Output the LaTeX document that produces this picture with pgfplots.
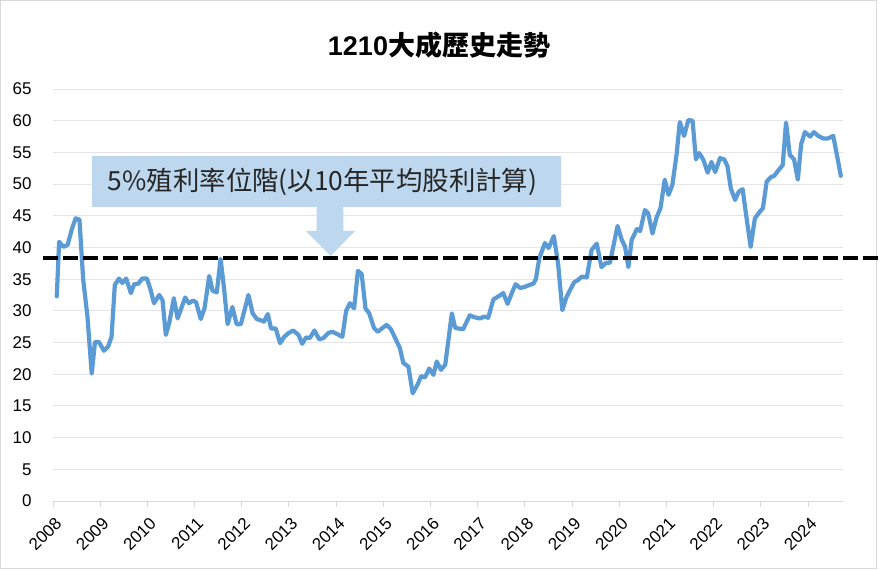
\documentclass[border=0pt]{standalone}
\usepackage{pgfplots}
\pgfplotsset{compat=1.18}
\usepackage{pgfplotstable}
\usepackage{fontspec}
\setmainfont{Liberation Sans}
\newfontfamily\cjk{Noto Sans CJK TC}
\definecolor{lineblue}{RGB}{91,155,213}
\definecolor{annblue}{RGB}{189,215,238}
\definecolor{gridgray}{RGB}{228,228,234}
\definecolor{bordergray}{RGB}{217,217,217}
\pgfplotstableread{
x y
2008.08 32.3
2008.13 40.9
2008.22 40.1
2008.31 40.4
2008.40 42.9
2008.48 44.6
2008.56 44.4
2008.64 34.9
2008.73 29.1
2008.82 20.1
2008.89 25.1
2008.97 25.1
2009.08 23.7
2009.17 24.4
2009.24 25.9
2009.31 34.1
2009.40 35.1
2009.47 34.4
2009.55 35.1
2009.65 32.8
2009.72 34.2
2009.81 34.3
2009.89 35.1
2009.99 35.1
2010.06 33.5
2010.14 31.2
2010.25 32.5
2010.32 31.7
2010.39 26.2
2010.46 28.0
2010.56 32.0
2010.64 28.8
2010.80 32.1
2010.88 31.2
2010.96 31.6
2011.03 31.4
2011.13 28.7
2011.21 30.4
2011.31 35.5
2011.38 33.2
2011.47 32.9
2011.55 38.2
2011.62 33.8
2011.70 27.9
2011.80 30.6
2011.89 27.9
2011.98 27.9
2012.05 29.9
2012.14 32.5
2012.23 29.6
2012.32 28.7
2012.41 28.5
2012.47 28.3
2012.55 29.5
2012.62 27.2
2012.72 27.2
2012.81 24.9
2012.90 25.9
2012.99 26.5
2013.09 26.9
2013.20 26.2
2013.28 24.8
2013.36 25.8
2013.44 25.7
2013.54 26.9
2013.64 25.5
2013.73 25.7
2013.83 26.5
2013.92 26.7
2014.03 26.3
2014.13 25.9
2014.21 30.0
2014.29 31.2
2014.38 30.4
2014.46 36.3
2014.54 35.8
2014.62 30.4
2014.70 29.6
2014.80 27.3
2014.88 26.7
2014.98 27.3
2015.07 27.8
2015.16 27.1
2015.25 25.7
2015.35 24.1
2015.42 21.8
2015.53 21.2
2015.62 17.0
2015.72 18.3
2015.80 19.7
2015.88 19.5
2015.97 20.9
2016.06 19.9
2016.13 22.0
2016.22 20.7
2016.31 21.5
2016.45 29.6
2016.52 27.3
2016.69 27.1
2016.83 29.3
2016.92 29.0
2017.05 28.8
2017.14 29.1
2017.22 28.9
2017.33 31.8
2017.46 32.4
2017.54 32.8
2017.63 31.1
2017.72 32.8
2017.80 34.2
2017.90 33.6
2018.00 33.8
2018.10 34.1
2018.18 34.3
2018.23 35.0
2018.30 38.2
2018.42 40.7
2018.50 39.9
2018.61 41.8
2018.70 37.5
2018.79 30.1
2018.88 32.2
2018.97 33.5
2019.04 34.5
2019.13 34.9
2019.20 35.4
2019.31 35.3
2019.41 39.6
2019.52 40.6
2019.62 36.9
2019.72 37.6
2019.80 37.6
2019.96 43.4
2020.05 41.2
2020.12 40.1
2020.19 36.9
2020.26 41.2
2020.37 42.9
2020.44 42.6
2020.54 45.9
2020.61 45.4
2020.70 42.2
2020.79 44.8
2020.87 46.2
2020.96 50.7
2021.04 48.3
2021.12 49.8
2021.21 54.6
2021.28 59.8
2021.37 57.6
2021.46 60.1
2021.55 60.0
2021.62 53.9
2021.69 54.9
2021.78 53.8
2021.87 51.8
2021.95 53.5
2022.03 51.9
2022.13 54.1
2022.22 53.9
2022.29 52.8
2022.36 49.3
2022.45 47.5
2022.53 48.8
2022.61 49.2
2022.70 44.3
2022.78 40.1
2022.87 44.6
2022.96 45.5
2023.04 46.2
2023.12 50.4
2023.21 51.1
2023.28 51.3
2023.37 52.2
2023.46 53.0
2023.53 59.7
2023.61 54.6
2023.70 53.9
2023.78 50.7
2023.85 56.3
2023.93 58.2
2024.04 57.5
2024.12 58.2
2024.21 57.6
2024.32 57.2
2024.42 57.2
2024.53 57.6
2024.62 54.1
2024.69 51.3
}\pricedata
\pgfplotstableread{
x y
2007.79 38.3
2025.48 38.3
}\yieldline
\begin{document}
\begin{tikzpicture}[x=1pt,y=1pt]
\path[use as bounding box] (0,0) rectangle (882,570);
\fill[white] (0,0) rectangle (882,570);
\draw[bordergray, line width=1pt] (0.5,2) rectangle (876.5,569.5);
\begin{axis}[
  at={(53pt,69pt)}, anchor=south west,
  scale only axis, width=790pt, height=412pt,
  xmin=2008, xmax=2024.737, ymin=0, ymax=65,
  clip=false,
  axis lines*=left,
  y axis line style={draw=none},
  x axis line style={draw=bordergray, line width=1pt},
  ytick={0,5,...,65},
  xtick={2008,2009,...,2024},
  ytick style={draw=none},
  xtick style={draw=bordergray, line width=1pt},
  tick align=outside,
  major tick length=6pt,
  ymajorgrids,
  grid style={gridgray, line width=1pt},
  /pgf/number format/assume math mode=true,
  /pgf/number format/1000 sep={},
  x tick label style={/pgf/number format/1000 sep={}},
  tick label style={font=\fontsize{17}{19}\selectfont, text=black},
  yticklabel style={anchor=east, xshift=-12pt},
  xticklabel style={xshift=8pt, yshift=-11pt, rotate=45, anchor=east},
]
\addplot[lineblue, line width=4.2pt, line join=round, line cap=round] table[x=x,y=y] {\pricedata};
\addplot[black, line width=4pt, dash pattern=on 15pt off 5pt] table[x=x,y=y] {\yieldline};
\end{axis}
\fill[annblue] (92,363) rectangle (561,414);
\fill[annblue] (316.7,363.5) -- (316.7,339) -- (306,339) -- (330.7,314) -- (355,339) -- (343.3,339) -- (343.3,363.5) -- cycle;
\node[text=black!85, font=\cjk\fontsize{26.4}{29}\selectfont] at (322.5,388.5) {5\%殖利率位階(以10年平均股利計算)};
\node[text=black, font=\fontsize{27}{30}\selectfont\bfseries] at (439,525) {1210{\cjk\bfseries 大成歷史走勢}};
\end{tikzpicture}
\end{document}
